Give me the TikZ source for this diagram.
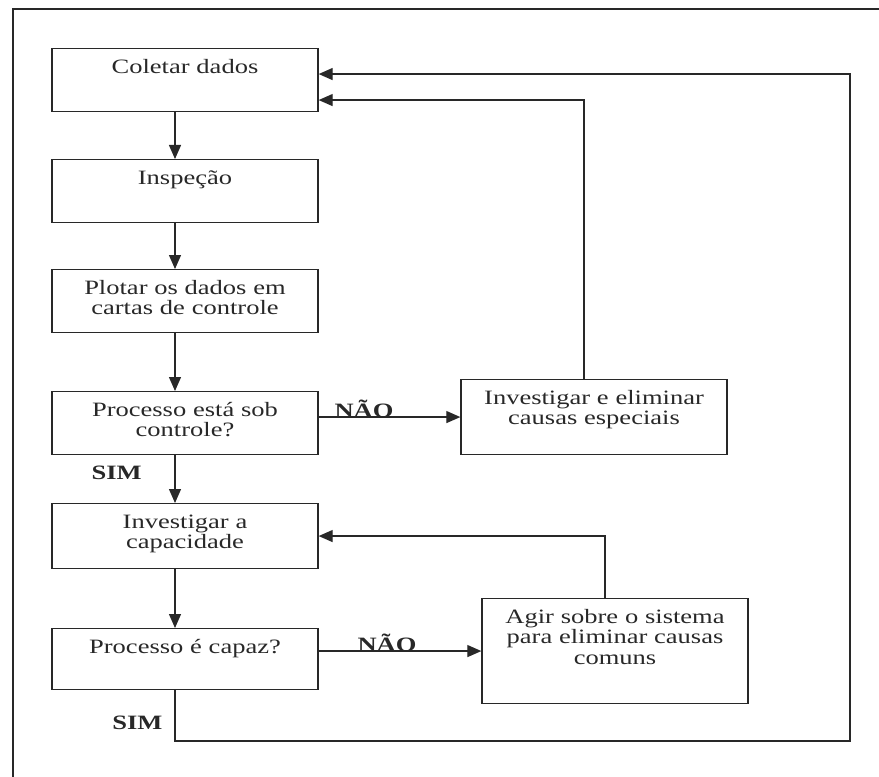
\documentclass[tikz,border=0pt]{standalone}
\usepackage{fontspec}
\setmainfont{Liberation Serif}[FakeStretch=1.3]
\usepackage{tikz}
\usetikzlibrary{arrows.meta}
\definecolor{inkcolor}{RGB}{40, 40, 40}

\begin{document}
\begin{tikzpicture}[
    x=0.025cm, y=-0.025cm,
    stage/.style={draw=inkcolor, line width=0.9pt, anchor=north, text width=6.65cm, align=center, inner xsep=0pt, inner ysep=0pt, text height=0.62cm, text depth=0.95cm, font=\fontsize{14.5}{14.6}\selectfont, text=inkcolor},
    flow/.style={draw=inkcolor, line width=0.9pt, -{Triangle[length=0.35cm, width=0.3cm]}},
    answer/.style={font=\fontsize{14.5}{14.6}\selectfont\bfseries, text=inkcolor},
]
    \useasboundingbox (0,0) rectangle (879,776);
    % Frame
    \draw[inkcolor, line width=1.2pt] (13,800) |- (900,9);

    % Main column
    \node[stage] (coletar) at (185,48) {Coletar dados};
    \node[stage] (inspecao) at (185,159) {Inspeção};
    \node[stage] (plotar) at (185,269) {Plotar os dados em\\cartas de controle};
    \node[stage] (controle) at (185,391) {Processo está sob\\controle?};
    \node[stage, text depth=1.0cm] (capacidade) at (185,503) {Investigar a\\capacidade};
    \node[stage, text depth=0.9cm] (capaz) at (185,628) {Processo é capaz?};

    % Actions
    \node[stage, text depth=1.25cm] (especiais) at (594,379) {Investigar e eliminar\\causas especiais};
    \node[stage, text depth=2.0cm] (comuns) at (615,598) {Agir sobre o sistema\\para eliminar causas\\comuns};

    \coordinate (retorno) at (850,741);

    % Flow
    \draw[flow] ([xshift=-0.25cm]coletar.south) -- ([xshift=-0.25cm]inspecao.north);
    \draw[flow] ([xshift=-0.25cm]inspecao.south) -- ([xshift=-0.25cm]plotar.north);
    \draw[flow] ([xshift=-0.25cm]plotar.south) -- ([xshift=-0.25cm]controle.north);
    \draw[flow] ([xshift=-0.25cm]controle.south) -- node[answer, pos=0.38, left=0.7cm] (sim1) {SIM} ([xshift=-0.25cm]capacidade.north);
    \draw[flow] ([xshift=-0.25cm]capacidade.south) -- ([xshift=-0.25cm]capaz.north);
    \draw[flow] (especiais.west -| controle.east) -- node[answer, pos=0.32, anchor=base] (nao1) {NÃO} (especiais.west);
    \draw[flow] (comuns.west -| capaz.east) -- node[answer, pos=0.42, anchor=base] (nao2) {NÃO} (comuns.west);

    % Feedback
    \draw[flow] ([xshift=-0.25cm]especiais.north) |- ([yshift=-0.5cm]coletar.east);
    \draw[flow] ([xshift=-0.25cm]comuns.north) |- (capacidade.east);
    \draw[flow] ([xshift=-0.25cm]capaz.south) |- node[answer, pos=0.32, left=0.18cm] (sim2) {SIM} (retorno) |- ([yshift=0.15cm]coletar.east);

\end{tikzpicture}
\end{document}
